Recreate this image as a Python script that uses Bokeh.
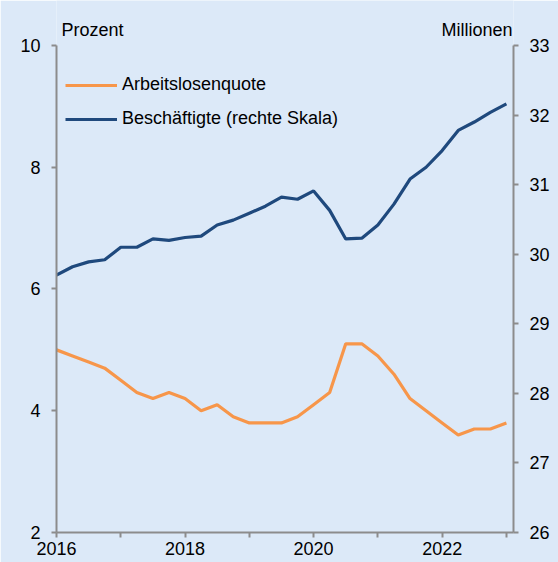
from bokeh.plotting import figure
from bokeh.models import Range1d, LinearAxis, FixedTicker, Legend, LegendItem, Label
from bokeh.embed import file_html
from bokeh.resources import INLINE

# --- data (quarterly, 2016 Q1 .. 2023 Q1) ---
quarters = [f"{y}-Q{q}" for y in range(2016, 2023) for q in range(1, 5)] + ["2023-Q1"]
unemployment_rate = [5.0, 4.9, 4.8, 4.7, 4.5, 4.3, 4.2, 4.3, 4.2, 4.0, 4.1, 3.9,
                     3.8, 3.8, 3.8, 3.9, 4.1, 4.3, 5.1, 5.1, 4.9, 4.6, 4.2, 4.0,
                     3.8, 3.6, 3.7, 3.7, 3.8]
employed_millions = [29.70, 29.82, 29.89, 29.92, 30.10, 30.10, 30.22, 30.20, 30.24, 30.26,
                     30.42, 30.49, 30.59, 30.69, 30.82, 30.79, 30.91, 30.63, 30.22, 30.23,
                     30.42, 30.72, 31.08, 31.25, 31.49, 31.78, 31.90, 32.04, 32.16]
x_ticks = [2016, 2017, 2018, 2019, 2020, 2021, 2022, 2023]
x_tick_labels = {2016: "2016", 2017: "", 2018: "2018", 2019: "", 2020: "2020",
                 2021: "", 2022: "2022", 2023: ""}
left_ticks = [2, 4, 6, 8, 10]
right_ticks = [26, 27, 28, 29, 30, 31, 32, 33]
series_names = ["Arbeitslosenquote", "Beschäftigte (rechte Skala)"]
left_unit = "Prozent"
right_unit = "Millionen"

x = [int(s[:4]) + (int(s[-1]) - 1) / 4 for s in quarters]

BG = "#dce9f8"
GRAY = "#8c8c8c"
ORANGE = "#f7964a"
BLUE = "#1f497d"
FONT = "Liberation Sans"

X_END = 2023.11
LEFT_TOP = 10.739   # frame extends above the axes, axis lines are bounded
RIGHT_TOP = 33.647

p = figure(width=558, height=562, output_backend="svg", toolbar_location=None,
           x_range=Range1d(2016, X_END), y_range=Range1d(2, LEFT_TOP),
           min_border_left=56, min_border_right=45, min_border_top=0, min_border_bottom=30)
p.extra_y_ranges = {"right": Range1d(26, RIGHT_TOP)}
p.background_fill_color = BG
p.border_fill_color = BG
p.outline_line_color = None
p.grid.visible = False

def style_axis(ax, standoff):
    ax.axis_line_color = GRAY
    ax.axis_line_width = 2
    ax.major_tick_line_color = GRAY
    ax.major_tick_line_width = 2
    ax.major_tick_out = 5
    ax.major_tick_in = 0
    ax.minor_tick_line_color = None
    ax.major_label_text_font = FONT
    ax.major_label_text_font_size = "18px"
    ax.major_label_text_color = "#000000"
    ax.major_label_standoff = standoff

xa = p.xaxis[0]
xa.ticker = FixedTicker(ticks=x_ticks)
xa.major_label_overrides = {k: v for k, v in x_tick_labels.items()}
style_axis(xa, 4)

ya = p.yaxis[0]
ya.ticker = FixedTicker(ticks=left_ticks)
ya.bounds = (left_ticks[0], left_ticks[-1])
style_axis(ya, 11)

ra = LinearAxis(y_range_name="right", ticker=FixedTicker(ticks=right_ticks),
                bounds=(right_ticks[0], right_ticks[-1]))
style_axis(ra, 11)
p.add_layout(ra, "right")

r1 = p.line(x, unemployment_rate, line_color=ORANGE, line_width=3.2)
r2 = p.line(x, employed_millions, line_color=BLUE, line_width=3.2, y_range_name="right")

legend = Legend(items=[LegendItem(label=series_names[0], renderers=[r1]),
                       LegendItem(label=series_names[1], renderers=[r2])],
                location=(9, 403), orientation="vertical",
                background_fill_alpha=0, border_line_alpha=0,
                glyph_width=52, glyph_height=20, label_height=20, spacing=13,
                label_standoff=5, padding=0, margin=0,
                label_text_font=FONT, label_text_font_size="18px", label_text_color="#000000")
p.add_layout(legend)

p.add_layout(Label(x=2016, y=left_ticks[-1], x_offset=5, y_offset=15, text=left_unit,
                   text_font=FONT, text_font_size="18px", text_color="#000000",
                   text_baseline="alphabetic", text_align="left"))
p.add_layout(Label(x=X_END, y=left_ticks[-1], x_offset=-1, y_offset=15, text=right_unit,
                   text_font=FONT, text_font_size="18px", text_color="#000000",
                   text_baseline="alphabetic", text_align="right"))

open("out.html", "w").write(file_html(p, INLINE))
